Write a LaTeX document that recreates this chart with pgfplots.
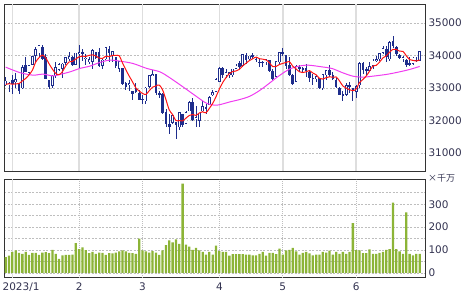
\documentclass[border=0pt]{standalone}
\usepackage{pgfplots}
\pgfplotsset{compat=1.18}
\usepackage{pgfplotstable}
\usepackage{fontspec}
\setmainfont{DejaVu Sans}
\newfontfamily\cjk{Noto Sans CJK JP}
\definecolor{candle}{RGB}{30,45,140}
\definecolor{ma5c}{RGB}{255,20,20}
\definecolor{ma25c}{RGB}{240,60,240}
\definecolor{volc}{RGB}{140,180,55}
\definecolor{gridc}{RGB}{190,190,190}
\definecolor{monthc}{RGB}{222,222,222}
\definecolor{labelc}{RGB}{50,50,80}

\pgfplotstableread{
i o h l c
0 33100 33350 33070 33220
1 33120 33180 32880 33147
2 33230 33400 32810 33136
3 33200 33460 33000 33270
4 33150 33150 32810 32930
5 33000 33700 32960 33631
6 33700 33960 33500 33517
7 33480 33720 33430 33704
8 33720 33980 33700 33974
9 34000 34260 33800 34190
10 34080 34330 33950 34303
11 34260 34340 33870 33910
12 33950 34060 33270 33297
13 33230 33230 32980 33045
14 33070 33400 33000 33375
15 33380 33790 33320 33630
16 33580 33770 33540 33734
17 33600 33760 33300 33744
18 33780 33960 33700 33949
19 33900 34100 33850 33978
20 33950 34000 33700 33717
21 33720 34090 33700 34086
22 34060 34330 33580 34093
23 34100 34200 33850 34054
24 33900 34060 33700 33926
25 33800 33960 33750 33891
26 33830 34190 33600 34156
27 34100 34110 33900 33949
28 34100 34250 33650 33699
29 33690 33900 33600 33869
30 33900 34260 33880 34246
31 34200 34300 33800 34089
32 33990 34130 33800 34128
33 33950 33960 33630 33697
34 33600 33830 33500 33827
35 33600 33600 33120 33130
36 33150 33200 32930 33045
37 33100 33250 32900 33154
38 32900 32900 32650 32817
39 32980 33150 32870 32889
40 32850 32950 32650 32657
41 32660 32800 32500 32662
42 32600 33050 32500 33004
43 33050 33400 33000 33391
44 33400 33570 33360 33431
45 33420 33430 32800 32856
46 32850 32900 32700 32798
47 32800 32850 32200 32254
48 32250 32350 31800 31910
49 31900 32200 31600 31820
50 31950 32200 31900 32155
51 31950 31950 31430 31875
52 31800 32260 31700 32247
53 32200 32200 31800 31862
54 31900 32300 31900 32245
55 32300 32600 32300 32561
56 32550 32700 32000 32031
57 32050 32450 31800 32106
58 32000 32250 31800 32238
59 32300 32600 32280 32432
60 32400 32500 32200 32394
61 32500 32750 32500 32718
62 32800 32950 32750 32860
63 32900 33300 32900 33274
64 33200 33650 33200 33601
65 33600 33650 33300 33403
66 33400 33580 33300 33483
67 33400 33500 33300 33485
68 33400 33600 33350 33587
69 33600 33750 33600 33685
70 33750 33850 33600 33647
71 33700 34050 33650 34030
72 34000 34080 33750 33887
73 33900 34000 33850 33988
74 34000 34070 33900 33977
75 33900 33950 33800 33897
76 33800 33900 33650 33787
77 33800 33850 33650 33809
78 33800 33900 33700 33876
79 33850 33850 33500 33531
80 33530 33580 33250 33302
81 33350 33850 33350 33827
82 33800 34100 33750 34098
83 34100 34250 34000 34051
84 34000 34000 33600 33684
85 33700 33950 33400 33414
86 33400 33450 33100 33128
87 33200 33700 33200 33675
88 33650 33700 33500 33619
89 33600 33650 33500 33562
90 33600 33750 33350 33531
91 33500 33550 33200 33310
92 33300 33450 33100 33301
93 33300 33400 33200 33349
94 33300 33300 33000 33012
95 33000 33450 32950 33421
96 33400 33550 33250 33536
97 33550 33700 33350 33427
98 33400 33500 33250 33287
99 33250 33300 33000 33056
100 33000 33050 32800 32800
101 32800 32900 32600 32765
102 32800 33150 32750 33093
103 33100 33200 32850 33043
104 33000 33000 32600 32908
105 32900 33100 32700 33061
106 33100 33800 33000 33763
107 33750 33800 33450 33563
108 33550 33650 33400 33573
109 33550 33800 33550 33666
110 33700 33900 33600 33834
111 33850 34000 33800 33877
112 33900 34070 33850 34066
113 34100 34300 34050 34212
114 34200 34300 33800 33979
115 33900 34450 33850 34408
116 34450 34590 34250 34300
117 34250 34300 34000 34054
118 34000 34050 33900 33952
119 33900 34000 33800 33947
120 33850 33900 33650 33727
121 33750 33950 33700 33714
122 33750 33950 33700 33927
123 33850 33950 33800 33853
124 33850 34150 33850 34122
}\ohlc

\pgfplotstableread{
i v
0 33113
1 33137
2 33124
3 33130
4 33141
5 33223
6 33297
7 33410
8 33551
9 33803
10 33938
11 34016
12 33935
13 33749
14 33586
15 33451
16 33416
17 33506
18 33686
19 33807
20 33824
21 33895
22 33965
23 33986
24 33975
25 34010
26 34024
27 33995
28 33924
29 33913
30 33984
31 33970
32 34006
33 34006
34 33997
35 33774
36 33565
37 33371
38 33195
39 33007
40 32912
41 32836
42 32806
43 32921
44 33029
45 33069
46 33096
47 32946
48 32650
49 32328
50 32187
51 32003
52 32001
53 31992
54 32077
55 32158
56 32189
57 32161
58 32236
59 32274
60 32240
61 32378
62 32528
63 32736
64 32969
65 33171
66 33324
67 33449
68 33512
69 33529
70 33577
71 33687
72 33767
73 33847
74 33906
75 33956
76 33907
77 33892
78 33869
79 33780
80 33661
81 33669
82 33727
83 33762
84 33792
85 33815
86 33675
87 33590
88 33504
89 33480
90 33503
91 33539
92 33465
93 33411
94 33301
95 33279
96 33324
97 33349
98 33337
99 33345
100 33221
101 33067
102 33000
103 32951
104 32922
105 32974
106 33174
107 33268
108 33374
109 33525
110 33680
111 33703
112 33803
113 33931
114 33994
115 34108
116 34193
117 34191
118 34139
119 34132
120 33996
121 33879
122 33853
123 33834
124 33869
}\mafive

\pgfplotstableread{
i v
0 33646
4.3 33477
8.2 33400
11.2 33431
14.2 33375
16.3 33422
19.3 33502
22.2 33606
25.2 33677
28.2 33791
31.2 33862
34.2 33831
38.1 33760
42.3 33606
46.2 33502
49.2 33317
53.1 33040
57.3 32732
60.3 32529
63.3 32477
67.2 32578
70.2 32652
73.1 32750
76.1 32930
79.6 33200
81.2 33330
83.6 33500
85.1 33590
87.5 33670
90.5 33708
94.7 33655
97.7 33606
101 33471
104 33369
107 33338
110 33369
114.2 33425
118 33502
121 33575
124 33668
}\matwentyfive

\pgfplotstableread{
i v
0 69
1 75
2 92
3 98
4 88
5 83
6 92
7 79
8 88
9 88
10 79
11 89
12 91
13 86
14 101
15 83
16 61
17 77
18 79
19 79
20 80
21 130
22 104
23 112
24 100
25 86
26 92
27 83
28 89
29 88
30 79
31 86
32 85
33 89
34 94
35 98
36 94
37 88
38 86
39 83
40 150
41 98
42 94
43 89
44 95
45 89
46 79
47 98
48 121
49 142
50 133
51 146
52 127
53 390
54 124
55 115
56 101
57 109
58 98
59 92
60 80
61 92
62 80
63 119
64 95
65 92
66 92
67 75
68 82
69 82
70 82
71 82
72 80
73 80
74 77
75 77
76 83
77 92
78 75
79 88
80 88
81 82
82 106
83 80
84 98
85 101
86 109
87 94
88 80
89 88
90 92
91 85
92 77
93 80
94 80
95 92
96 89
97 97
98 80
99 92
100 83
101 92
102 83
103 92
104 218
105 100
106 98
107 86
108 86
109 103
110 83
111 83
112 88
113 92
114 101
115 104
116 307
117 104
118 94
119 83
120 264
121 83
122 77
123 83
124 83
}\vol

\pgfplotsset{
  panel/.style={
    scale only axis, width=421bp,
    xmin=-0.5, xmax=125.6,
    axis line style={draw=black!80, line width=0.8bp},
    major tick length=0pt, minor tick length=0pt,
    tick style={draw=none},
    yticklabel pos=right,
    ticklabel style={font=\fontsize{10.5}{12}\selectfont, text=labelc},
    /pgf/number format/assume math mode=true,
    /pgf/number format/1000 sep={},
    scaled y ticks=false,
    xmajorgrids=false, ymajorgrids=true,
    clip mode=individual,
    major grid style={draw=gridc, dash pattern=on 2bp off 1.5bp, line width=0.8bp},
  }
}

\begin{document}
\begin{tikzpicture}
\useasboundingbox (0,0) rectangle (470bp,295bp);
% price panel
\begin{axis}[panel,
  at={(4bp,124bp)}, anchor=south west, height=167bp,
  ymin=30450, ymax=35590,
  ytick={31000,32000,33000,34000,35000},
  xtick=\empty,
]
\foreach \m in {2,22,41,64,83,105}{
  \edef\temp{\noexpand\draw[monthc, line width=1.6bp] (axis cs:\m,30450) -- (axis cs:\m,35590);}
  \temp
}
\addplot[draw=none, mark=none, forget plot,
  error bars/.cd, y dir=both, y explicit, error mark=none,
  error bar style={draw=candle, line width=0.8bp}]
  table[x=i, y=c, y error plus expr=\thisrow{h}-\thisrow{c}, y error minus expr=\thisrow{c}-\thisrow{l}] {\ohlc};
\addplot[draw=none, mark=none, forget plot,
  error bars/.cd, y dir=both, y explicit, error mark=none,
  error bar style={draw=candle, line width=2.6bp}]
  table[x=i, y expr=(\thisrow{o}+\thisrow{c})/2, y error expr={abs(\thisrow{c}-\thisrow{o})/2+10}] {\ohlc};
\addplot[draw=none, mark=none, forget plot,
  error bars/.cd, y dir=both, y explicit, error mark=none,
  error bar style={draw=white, line width=1.2bp}]
  table[x=i, y expr=(\thisrow{o}+\thisrow{c})/2, y error expr={(\thisrow{c}>\thisrow{o})*max(abs(\thisrow{c}-\thisrow{o})/2-12,0)}] {\ohlc};
\addplot[ma25c, line width=1bp, smooth, mark=none] table[x=i, y=v] {\matwentyfive};
\addplot[ma5c, line width=1bp, smooth, mark=none] table[x=i, y=v] {\mafive};
\end{axis}
% volume panel
\begin{axis}[panel,
  at={(4bp,17.5bp)}, anchor=south west, height=98bp,
  ymin=-20, ymax=408,
  ytick={0,50,...,350},
  yticklabels={0,,100,,200,,300,},
  xtick={2,22,41,64,83,105},
  xticklabels={\makebox[0pt][l]{\hspace{-9.7bp}2023/1},2,3,4,5,6},
  xticklabel style={yshift=-2bp},
]
\draw[monthc, line width=1.6bp] (axis cs:2,-20) -- (axis cs:2,408);
\foreach \m in {22,41,64,83,105}{
  \edef\temp{\noexpand\draw[gridc, dash pattern=on 1bp off 1bp, line width=0.8bp] (axis cs:\m,-20) -- (axis cs:\m,408);}
  \temp
}
\addplot[ybar, bar width=2.3bp, fill=volc, draw=none] table[x=i, y=v] {\vol};
\node[anchor=west, font=\cjk\fontsize{9}{10}\selectfont, text=labelc, inner sep=0pt] at (rel axis cs:1,1) [xshift=3bp, yshift=1.5bp] {×千万};
\end{axis}
\end{tikzpicture}
\end{document}
